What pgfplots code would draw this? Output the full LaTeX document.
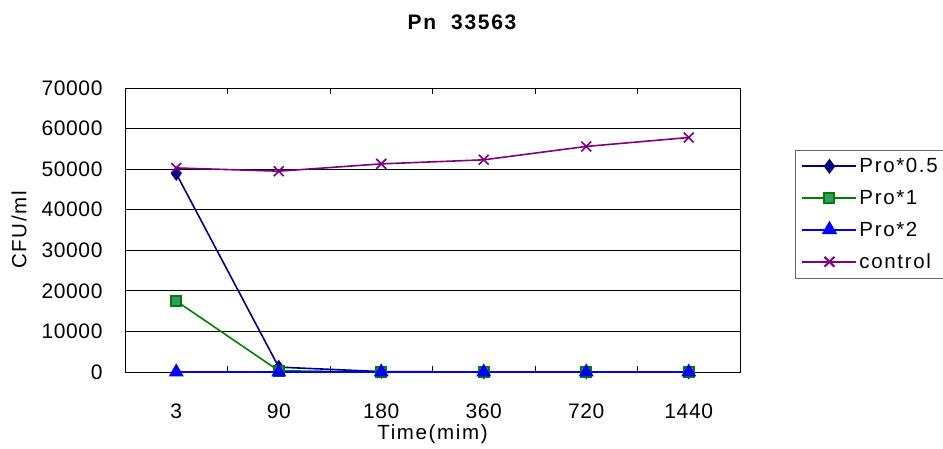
\documentclass[border=0pt]{standalone}
\usepackage{fontspec}
\setmainfont[LetterSpace=8]{Liberation Sans}
\newfontfamily\tickfont[LetterSpace=3]{Liberation Sans}
\usepackage{pgfplots}
\pgfplotsset{compat=1.18}
\definecolor{cnavy}{RGB}{0,0,128}
\definecolor{cgreen}{RGB}{0,128,0}
\definecolor{cgfill}{RGB}{51,153,102}
\definecolor{cblue}{RGB}{0,0,255}
\definecolor{cpurple}{RGB}{128,0,128}
\begin{document}
\begin{tikzpicture}
\path[use as bounding box] (0pt,0pt) rectangle (943pt,448pt);
\node[font=\fontsize{21}{24}\selectfont\bfseries] at (462pt,426pt) {Pn\ \ 33563};
\begin{axis}[
  at={(125pt,76pt)}, anchor=south west,
  scale only axis, width=615pt, height=284pt,
  xmin=-0.5, xmax=5.5, ymin=0, ymax=70000,
  xtick={0,...,5}, xticklabels={3,90,180,360,720,1440},
  major x tick style={draw=none},
  minor xtick={0.5,1.5,2.5,3.5,4.5},
  minor tick length=6pt,
  ytick={0,10000,...,70000},
  major tick length=5pt,
  tick align=inside,
  scaled y ticks=false,
  /pgf/number format/assume math mode=true,
  ticklabel style={font=\tickfont\fontsize{21}{24}\selectfont},
  xticklabel style={yshift=-28pt},
  yticklabel style={xshift=-19pt, /pgf/number format/.cd, fixed, 1000 sep={}},
  ymajorgrids, grid style={black, line width=0.8pt},
  axis line style={black, line width=1pt},
  tick style={black, line width=0.8pt},
  xlabel={Time(mim)}, ylabel={CFU/ml},
  label style={font=\fontsize{20.5}{23}\selectfont},
  xlabel style={yshift=1pt},
  ylabel style={yshift=8pt},
  legend style={at={(1.0894,0.782)}, anchor=north west, draw=gray!80!black, line width=1pt,
    font=\fontsize{20.5}{23}\selectfont, row sep=12pt, inner sep=6pt},
  legend cell align=left,
  legend image code/.code={\draw[#1, line width=2pt, mark repeat=2, mark phase=2] plot coordinates {(0pt,0pt) (27pt,0pt) (54pt,0pt)};},
]
\addplot[cnavy, line width=1.6pt, mark=diamond*, mark size=6pt, mark options={fill=cnavy, solid}]
  coordinates {(0,48900) (1,1200) (2,100) (3,0) (4,0) (5,0)};
\addlegendentry{Pro*0.5}
\addplot[cgreen, line width=1.6pt, mark=square*, mark size=5pt, mark options={fill=cgfill, draw=cgreen}]
  coordinates {(0,17500) (1,300) (2,0) (3,0) (4,0) (5,0)};
\addlegendentry{Pro*1}
\addplot[cblue, line width=1.6pt, mark=triangle*, mark size=7pt, mark options={fill=cblue}]
  coordinates {(0,0) (1,0) (2,0) (3,0) (4,0) (5,0)};
\addlegendentry{Pro*2}
\addplot[cpurple, line width=1.6pt, mark=x, mark size=7pt]
  coordinates {(0,50300) (1,49500) (2,51300) (3,52300) (4,55600) (5,57800)};
\addlegendentry{control}
\end{axis}
\end{tikzpicture}
\end{document}
